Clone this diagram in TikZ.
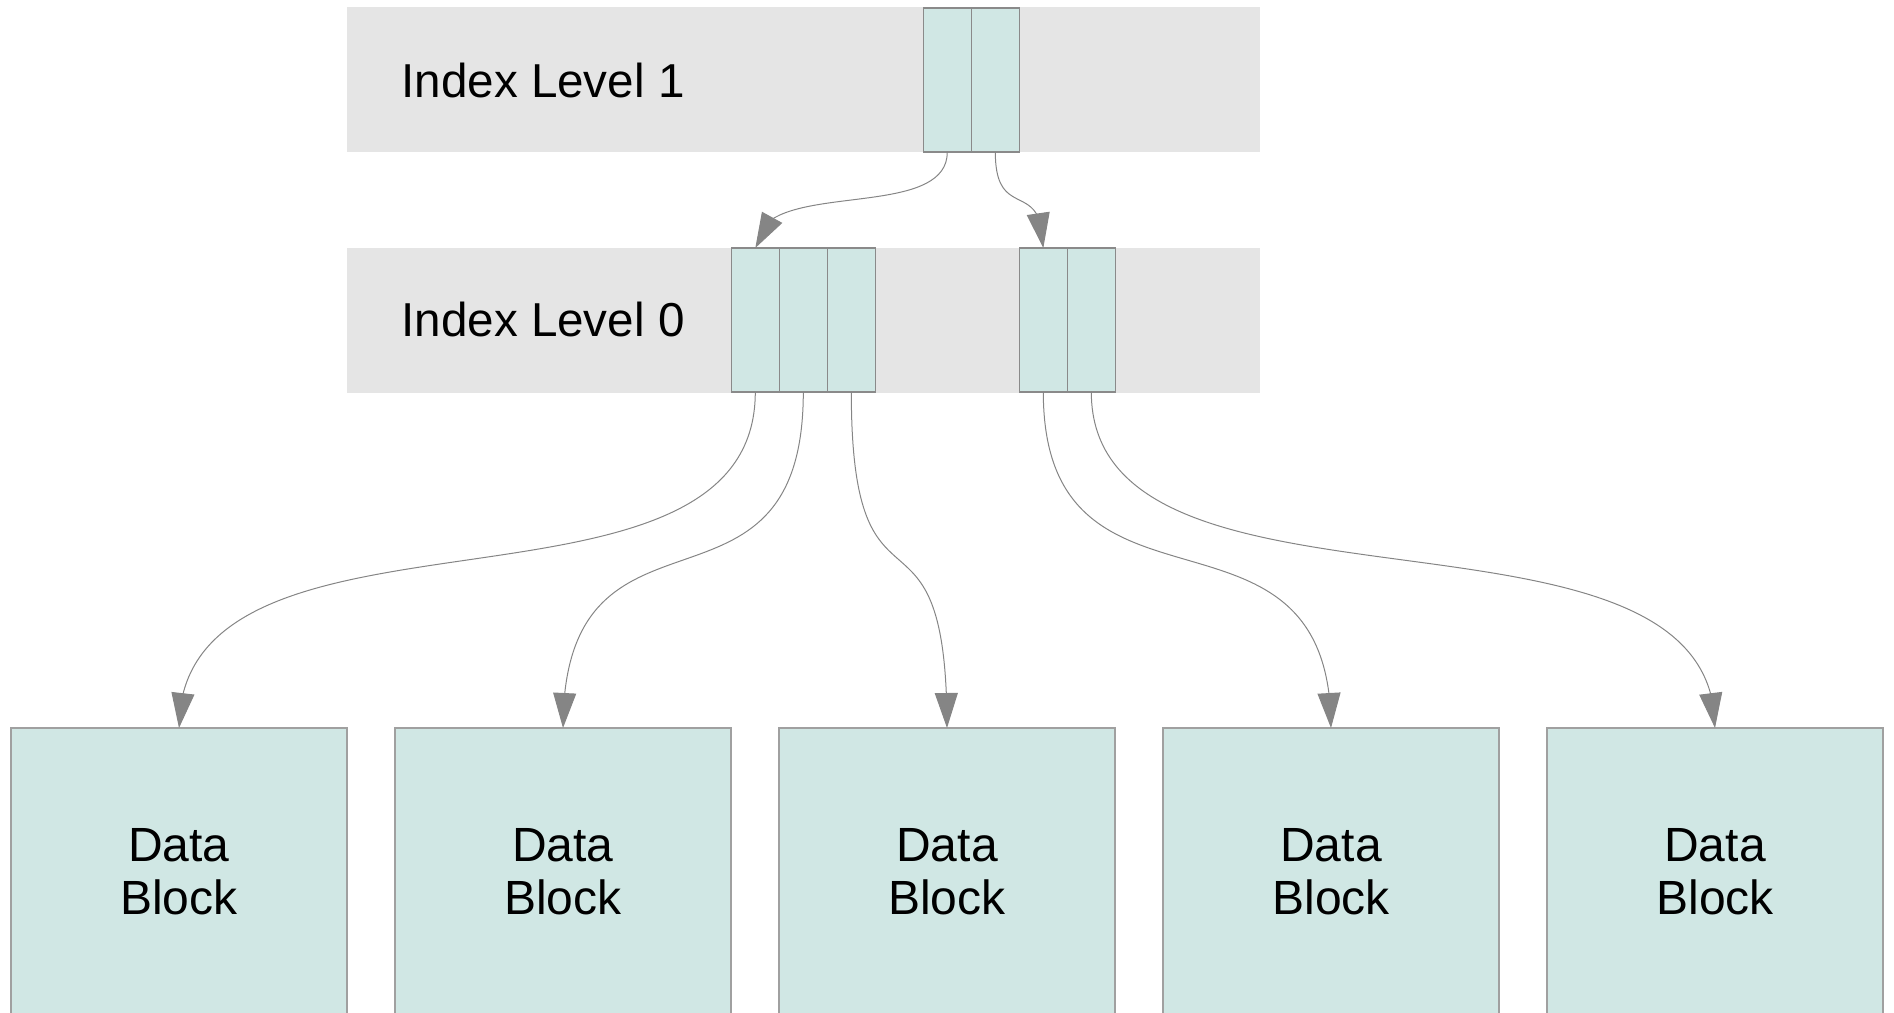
\documentclass[tikz,border=0pt]{standalone}
\usepackage{fontspec}
\setmainfont{Liberation Sans}
\usetikzlibrary{arrows.meta,bending}
\definecolor{barfill}{HTML}{E5E5E5}
\definecolor{cellfill}{HTML}{D0E7E4}
\definecolor{cellline}{HTML}{8A8A8A}
\definecolor{blockline}{HTML}{A0A0A0}
\definecolor{connline}{HTML}{858585}
\begin{document}
\begin{tikzpicture}[x=0.5pt,y=-0.5pt,
  bar/.style={fill=barfill, draw=none, minimum width=456.5pt, minimum height=72.5pt, inner sep=0pt, outer sep=0pt},
  cell/.style={fill=cellfill, draw=cellline, line width=0.6pt, minimum width=24pt, minimum height=72pt, inner sep=0pt, outer sep=0pt},
  block/.style={fill=cellfill, draw=blockline, line width=0.6pt, minimum width=168pt, minimum height=144pt, inner sep=0pt, outer sep=0pt, align=center, font=\fontsize{24}{26.7}\selectfont},
  lbl/.style={anchor=base west, inner sep=0pt, font=\fontsize{23.8}{28}\selectfont},
  conn/.style={draw=connline, line width=0.5pt, -{Triangle[length=17.5pt,width=11.5pt]}}
]
\useasboundingbox (0,0) rectangle (1894,1012);
\clip (0,0) rectangle (1894,1012);
% bars
\node[bar] (bar1) at (803.5,79.5) {};
\node[bar] (bar0) at (803.5,320) {};
\node[lbl] (l1) at (401,97.7) {Index Level 1};
\node[lbl] (l0) at (401,336.7) {Index Level 0};
% level 1 cells
\node[cell] (c1a) at (947.3,80) {};
\node[cell] (c1b) at (995.3,80) {};
% level 0 cells
\node[cell] (c0a) at (755.3,320) {};
\node[cell] (c0b) at (803.3,320) {};
\node[cell] (c0c) at (851.3,320) {};
\node[cell] (c0d) at (1043.3,320) {};
\node[cell] (c0e) at (1091.3,320) {};
% data blocks
\node[block] (d1) at (179,872) {Data\\Block};
\node[block] (d2) at (563,872) {Data\\Block};
\node[block] (d3) at (947,872) {Data\\Block};
\node[block] (d4) at (1331,872) {Data\\Block};
\node[block] (d5) at (1715,872) {Data\\Block};
% connectors
\draw[conn] (c1a.south) .. controls +(0,72) and +(0,-72) .. (c0a.north);
\draw[conn] (c1b.south) .. controls +(0,72) and +(0,-72) .. (c0d.north);
\draw[conn] (c0a.south) .. controls +(0,252) and +(0,-252) .. (d1.north);
\draw[conn] (c0b.south) .. controls +(0,252) and +(0,-252) .. (d2.north);
\draw[conn] (c0c.south) .. controls +(0,252) and +(0,-252) .. (d3.north);
\draw[conn] (c0d.south) .. controls +(0,252) and +(0,-252) .. (d4.north);
\draw[conn] (c0e.south) .. controls +(0,252) and +(0,-252) .. (d5.north);
\end{tikzpicture}
\end{document}
